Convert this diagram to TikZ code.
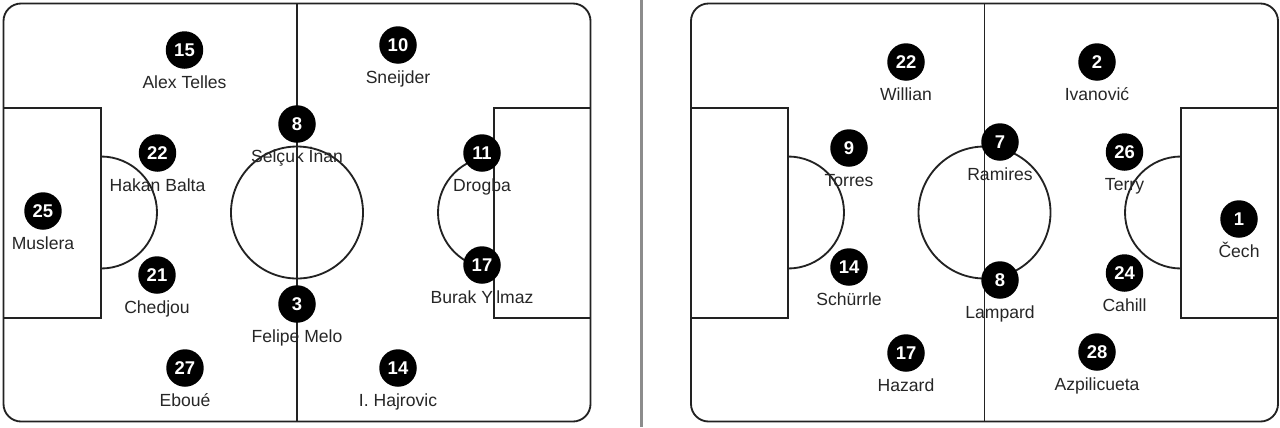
\documentclass[tikz,border=0pt]{standalone}
\usepackage{fontspec}
\setmainfont{Liberation Sans}
\usetikzlibrary{positioning}
\definecolor{LineGrey}{RGB}{34,34,34}
\definecolor{SplitGrey}{RGB}{140,140,140}

\begin{document}
\begin{tikzpicture}[
  x=0.02cm, y=-0.02cm,
  font=\fontsize{10}{12}\selectfont,
  pitch/.style={draw=LineGrey, line width=1.05pt},
  plr/.style={circle, fill=black, text=white, inner sep=0pt, minimum size=0.75cm,
    font=\fontsize{10.5}{12}\selectfont\bfseries},
  pname/.style={inner sep=0pt, text height=7.5pt, text depth=2pt, text=black!85},
]
\useasboundingbox (0,0) rectangle (1280,427);

% separator
\draw[SplitGrey, line width=1.6pt] (641.5,0) -- (641.5,427);

% left pitch
\draw[pitch, rounded corners=10pt] (3.5,3.5) rectangle (590.5,421.5);
\draw[pitch] (297,3.5) -- (297,421.5);
\draw[pitch] (297,212.5) circle[radius=66];
\draw[pitch] (3.5,108) -| (101,318) -- (3.5,318);
\draw[pitch] (590.5,108) -| (494,318) -- (590.5,318);
\draw[pitch] (101,156.5) arc[start angle=-90, end angle=90, radius=56];
\draw[pitch] (494,156.5) arc[start angle=270, end angle=90, radius=56];

% right pitch
\draw[pitch, rounded corners=10pt] (691,3.5) rectangle (1278,421.5);
\draw[pitch] (984.5,3.5) -- (984.5,421.5);
\draw[pitch] (984.5,212.5) circle[radius=66];
\draw[pitch] (691,108) -| (788,318) -- (691,318);
\draw[pitch] (1278,108) -| (1181,318) -- (1278,318);
\draw[pitch] (788,156.5) arc[start angle=-90, end angle=90, radius=56];
\draw[pitch] (1181,156.5) arc[start angle=270, end angle=90, radius=56];

% Galatasaray
\node[plr] (g25) at (43,211)    {25}; \node[pname, below=3.6pt of g25] (ng25) {Muslera};
\node[plr] (g22) at (157.5,153) {22}; \node[pname, below=3.6pt of g22] (ng22) {Hakan Balta};
\node[plr] (g21) at (157,275)   {21}; \node[pname, below=3.6pt of g21] (ng21) {Chedjou};
\node[plr] (g15) at (184.5,50)  {15}; \node[pname, below=3.6pt of g15] (ng15) {Alex Telles};
\node[plr] (g27) at (185,368)   {27}; \node[pname, below=3.6pt of g27] (ng27) {Eboué};
\node[plr] (g8)  at (297,124)   {8};  \node[pname, below=3.6pt of g8]  (ng8)  {Selçuk İnan};
\node[plr] (g3)  at (297,304)   {3};  \node[pname, below=3.6pt of g3]  (ng3)  {Felipe Melo};
\node[plr] (g10) at (398,45)    {10}; \node[pname, below=3.6pt of g10] (ng10) {Sneijder};
\node[plr] (g14) at (398,368)   {14}; \node[pname, below=3.6pt of g14] (ng14) {I. Hajrovic};
\node[plr] (g11) at (482,153)   {11}; \node[pname, below=3.6pt of g11] (ng11) {Drogba};
\node[plr] (g17) at (482,265)   {17}; \node[pname, below=3.6pt of g17] (ng17) {Burak Yilmaz};

% Chelsea
\node[plr] (c22) at (906,62)     {22}; \node[pname, below=3.6pt of c22] (nc22) {Willian};
\node[plr] (c9)  at (849,148)    {9};  \node[pname, below=3.6pt of c9]  (nc9)  {Torres};
\node[plr] (c14) at (849,267)    {14}; \node[pname, below=3.6pt of c14] (nc14) {Schürrle};
\node[plr] (c17) at (906,353)    {17}; \node[pname, below=3.6pt of c17] (nc17) {Hazard};
\node[plr] (c7)  at (1000,142)   {7};  \node[pname, below=3.6pt of c7]  (nc7)  {Ramires};
\node[plr] (c8)  at (1000,280)   {8};  \node[pname, below=3.6pt of c8]  (nc8)  {Lampard};
\node[plr] (c2)  at (1097,62)    {2};  \node[pname, below=3.6pt of c2]  (nc2)  {Ivanović};
\node[plr] (c28) at (1097,352)   {28}; \node[pname, below=3.6pt of c28] (nc28) {Azpilicueta};
\node[plr] (c26) at (1124.5,152) {26}; \node[pname, below=3.6pt of c26] (nc26) {Terry};
\node[plr] (c24) at (1124.5,273) {24}; \node[pname, below=3.6pt of c24] (nc24) {Cahill};
\node[plr] (c1)  at (1239,219)   {1};  \node[pname, below=3.6pt of c1]  (nc1)  {Čech};
\end{tikzpicture}
\end{document}
